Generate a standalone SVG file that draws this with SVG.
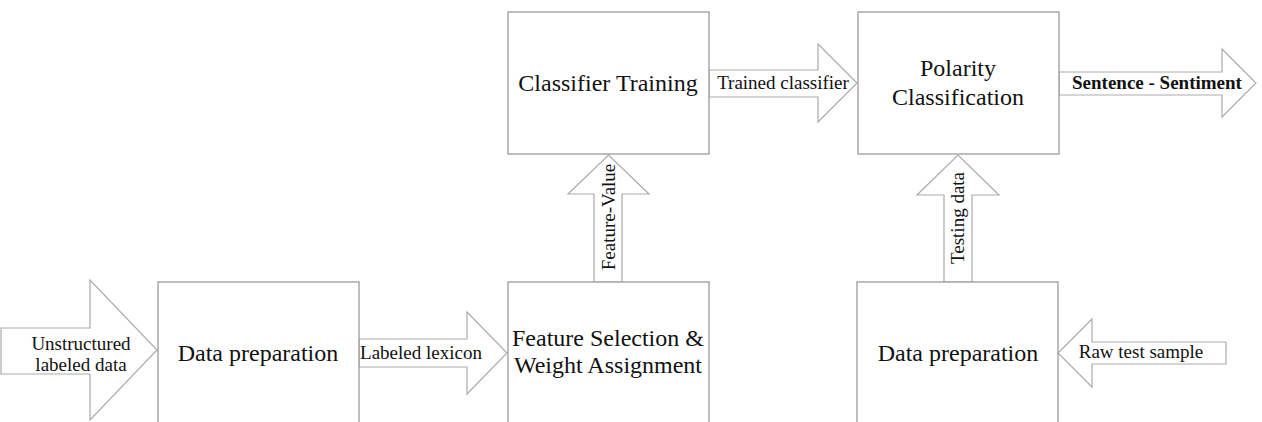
<svg xmlns="http://www.w3.org/2000/svg" width="1262" height="422" viewBox="0 0 1262 422">
  <style>
    .box { fill: #ffffff; stroke: #9a9a9a; stroke-width: 1.3; }
    .arrow { fill: #ffffff; stroke: #ababab; stroke-width: 1.2; stroke-linejoin: miter; }
    text { font-family: 'Liberation Serif', 'DejaVu Serif', serif; fill: #111; text-anchor: middle; }
    .big { font-size: 24px; }
    .lbl { font-size: 19px; }
    .bold { font-weight: bold; }
  </style>
  <rect x="0" y="0" width="1262" height="422" fill="#ffffff"/>

  <!-- block arrows between the stages -->
  <g id="connectors">
    <g id="c-input">
      <polygon class="arrow" points="1,328 90,328 90,280 157,350 90,420 90,374 1,374"/>
      <text class="lbl" x="81" y="350">Unstructured</text>
      <text class="lbl" x="81" y="371">labeled data</text>
    </g>
    <g id="c-lexicon">
      <polygon class="arrow" points="359,339 467,339 467,312 507,353 467,394 467,367 359,367"/>
      <text class="lbl" x="421" y="359">Labeled lexicon</text>
    </g>
    <g id="c-feature-value">
      <polygon class="arrow" points="594,282 594,194 568,194 608.5,155 649,194 622,194 622,282"/>
      <text class="lbl" transform="translate(615,217) rotate(-90)">Feature-Value</text>
    </g>
    <g id="c-trained">
      <polygon class="arrow" points="709,70 818,70 818,44 857,83 818,122 818,97 709,97"/>
      <text class="lbl" x="783" y="89">Trained classifier</text>
    </g>
    <g id="c-output">
      <polygon class="arrow" points="1059,72 1222,72 1222,49 1256,83 1222,117 1222,95 1059,95"/>
      <text class="lbl bold" x="1157" y="89">Sentence - Sentiment</text>
    </g>
    <g id="c-testing">
      <polygon class="arrow" points="944,282 944,195 917,195 958,155 999,195 972,195 972,282"/>
      <text class="lbl" transform="translate(964,218) rotate(-90)">Testing data</text>
    </g>
    <g id="c-raw">
      <polygon class="arrow" points="1226,342 1092,342 1092,319 1058,353 1092,387 1092,364 1226,364"/>
      <text class="lbl" x="1141" y="358">Raw test sample</text>
    </g>
  </g>

  <!-- processing stages -->
  <g id="n-prep-train">
    <rect class="box" x="158" y="282" width="201" height="150"/>
    <text class="big" x="258" y="361">Data preparation</text>
  </g>
  <g id="n-feature-selection">
    <rect class="box" x="508" y="282" width="201" height="150"/>
    <text class="big" x="608" y="346">Feature Selection &amp;</text>
    <text class="big" x="608" y="373">Weight Assignment</text>
  </g>
  <g id="n-classifier-training">
    <rect class="box" x="508" y="12" width="201" height="142"/>
    <text class="big" x="608" y="91">Classifier Training</text>
  </g>
  <g id="n-polarity">
    <rect class="box" x="858" y="12" width="201" height="142"/>
    <text class="big" x="958" y="76">Polarity</text>
    <text class="big" x="958" y="105">Classification</text>
  </g>
  <g id="n-prep-test">
    <rect class="box" x="857" y="282" width="201" height="150"/>
    <text class="big" x="958" y="361">Data preparation</text>
  </g>
</svg>
